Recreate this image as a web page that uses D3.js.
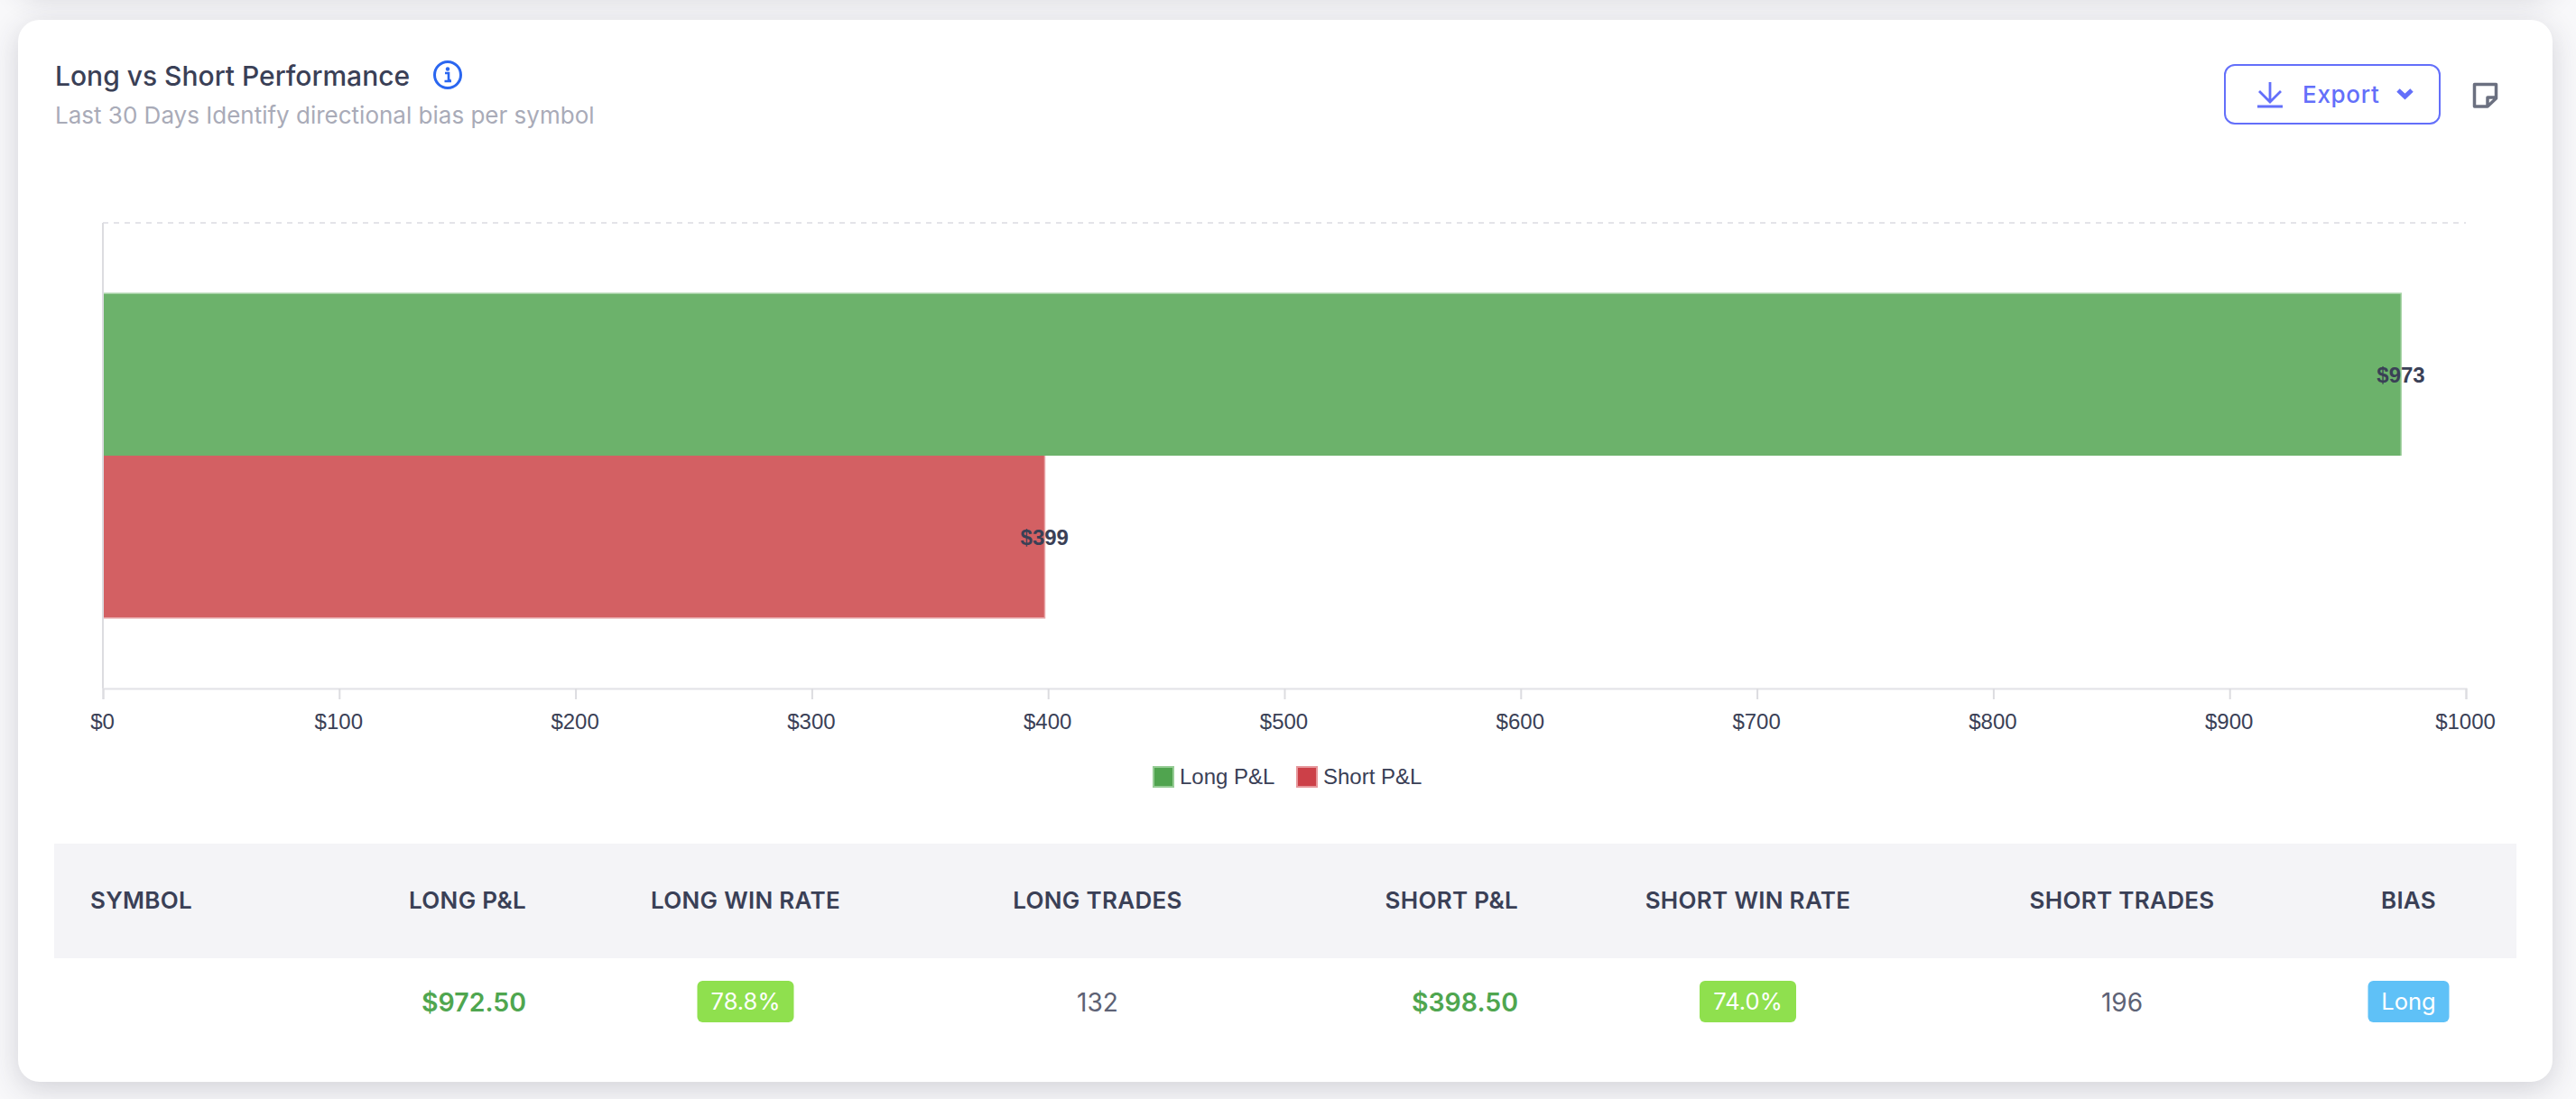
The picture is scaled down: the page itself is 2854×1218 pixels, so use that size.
<!DOCTYPE html>
<html>
<head>
<meta charset="utf-8">
<script src="https://cdn.jsdelivr.net/npm/d3@7"></script>
<style>
  html, body { margin: 0; padding: 0; width: 2854px; height: 1218px; overflow: hidden; background: #f8f8fa; }
  .card {
    position: absolute; left: 20px; width: 2808px;
    background: #fff; border-radius: 24px;
    box-shadow: 0 8px 32px rgba(50, 50, 70, 0.19);
  }
  #prev { top: -300px; height: 288px; }
  #card { top: 22px; height: 1177px; }
  svg { position: absolute; left: 0; top: 0; }
  text { font-family: Inter, sans-serif; }
  .tick text, .legend text, .bar-label { font-family: "Liberation Sans", Arial, sans-serif; }
</style>
</head>
<body>
<div class="card" id="prev"></div>
<div class="card" id="card"></div>
<svg width="2854" height="1218"></svg>
<script>
// Chart data
const symbols = [""];
const seriesNames = ["Long P&L", "Short P&L"];
const seriesValues = [972.5, 398.5];
const barLabels = ["$973", "$399"];
const xTicks = [0, 100, 200, 300, 400, 500, 600, 700, 800, 900, 1000];

// Table data
const tableHeaders = ["SYMBOL", "LONG P&L", "LONG WIN RATE", "LONG TRADES", "SHORT P&L", "SHORT WIN RATE", "SHORT TRADES", "BIAS"];
const longPnl = ["$972.50"];
const longWinRate = ["78.8%"];
const longTrades = ["132"];
const shortPnl = ["$398.50"];
const shortWinRate = ["74.0%"];
const shortTrades = ["196"];
const bias = ["Long"];

const svg = d3.select("svg");

// Colours
const ink = "#3a4056";
const barFill = ["#6cb26b", "#d36063"];
const barEdge = ["#a9d4a8", "#e8a7a9"];
const swatchFill = ["#50a44f", "#cc4048"];
const swatchEdge = ["#96cc95", "#e6989c"];

// Header
svg.append("text").attr("x", 61).attr("y", 94.5)
  .attr("font-size", 30).attr("font-weight", 500).attr("fill", ink)
  .text("Long vs Short Performance");
svg.append("text").attr("x", 61).attr("y", 137)
  .attr("font-size", 26).attr("fill", "#a9abb8")
  .text("Last 30 Days Identify directional bias per symbol");

// Info icon
const info = svg.append("g").attr("transform", "translate(496,83)");
info.append("circle").attr("r", 14.5).attr("fill", "none").attr("stroke", "#2a66f0").attr("stroke-width", 3);
info.append("circle").attr("cy", -6.5).attr("r", 2.2).attr("fill", "#2a66f0");
info.append("path").attr("d", "M-3,-2H1V6H3.5M-3.5,7H4").attr("fill", "none").attr("stroke", "#2a66f0").attr("stroke-width", 2.6);

// Export button
const exportColor = "#636ffa";
svg.append("rect").attr("x", 2465).attr("y", 72).attr("width", 238).attr("height", 65).attr("rx", 11)
  .attr("fill", "#fff").attr("stroke", exportColor).attr("stroke-width", 2);
svg.append("path").attr("d", "M2515,91V113M2503,101L2515,113L2527,101M2501,118H2529")
  .attr("fill", "none").attr("stroke", exportColor).attr("stroke-width", 2.8);
svg.append("text").attr("x", 2551).attr("y", 114)
  .attr("font-size", 26).attr("font-weight", 500).attr("letter-spacing", 0.7).attr("fill", exportColor)
  .text("Export");
svg.append("path").attr("d", "M2657,100L2664.5,107L2672,100")
  .attr("fill", "none").attr("stroke", exportColor).attr("stroke-width", 5);

// Note icon
svg.append("path").attr("d", "M2741.5,93.5H2765.5V109L2756,118H2741.5ZM2765,108H2756V117")
  .attr("fill", "none").attr("stroke", "#6b7080").attr("stroke-width", 3.5).attr("stroke-linejoin", "round");

// Scales
const x = d3.scaleLinear().domain([0, 1000]).range([114, 2732]);
const y0 = d3.scaleBand().domain(symbols).range([247, 763]).paddingInner(0).paddingOuter(0.2143);
const y1 = d3.scaleBand().domain(seriesNames).range([0, y0.bandwidth()]);

// Top dashed line
svg.append("line").attr("x1", x(0)).attr("x2", x(1000)).attr("y1", 247).attr("y2", 247)
  .attr("stroke", "#e4e4e9").attr("stroke-width", 2).attr("stroke-dasharray", "6 6");

// Bars: a light edge rect, then the fill inset on the outer sides only
const barGroup = svg.append("g").attr("transform", `translate(0,${y0(symbols[0])})`);
barGroup.selectAll(".edge")
  .data(seriesValues)
  .enter()
  .append("rect")
  .attr("class", "edge")
  .attr("x", x(0))
  .attr("y", (d, i) => y1(seriesNames[i]))
  .attr("width", (d) => x(d) - x(0) + 1)
  .attr("height", y1.bandwidth())
  .attr("fill", (d, i) => barEdge[i]);
barGroup.selectAll(".fill")
  .data(seriesValues)
  .enter()
  .append("rect")
  .attr("class", "fill")
  .attr("x", x(0))
  .attr("y", (d, i) => y1(seriesNames[i]) + (i === 0 ? 1.5 : 0))
  .attr("width", (d) => x(d) - x(0) - 0.5)
  .attr("height", y1.bandwidth() - 1.5)
  .attr("fill", (d, i) => barFill[i]);

// Left axis line
svg.append("line").attr("x1", x(0)).attr("x2", x(0)).attr("y1", 247).attr("y2", 763)
  .attr("stroke", "#dcdce0").attr("stroke-width", 2);

// X axis
const xAxis = d3.axisBottom(x).tickValues(xTicks).tickFormat((d) => "$" + d).tickSize(12).tickPadding(16);
const axisG = svg.append("g").attr("transform", "translate(0,763)").call(xAxis);
axisG.select(".domain").attr("stroke", "#e2e2e6").attr("stroke-width", 2);
axisG.selectAll(".tick line").attr("stroke", "#dcdce0").attr("stroke-width", 2);
axisG.selectAll(".tick text").attr("font-size", 24).attr("fill", ink).attr("dx", -1);

// Bar value labels
barGroup.selectAll(".bar-label")
  .data(seriesValues)
  .enter()
  .append("text")
  .attr("class", "bar-label")
  .attr("x", (d) => x(d))
  .attr("y", (d, i) => y1(seriesNames[i]) + y1.bandwidth() / 2 + 9)
  .attr("text-anchor", "middle")
  .attr("font-size", 24)
  .attr("font-weight", 700)
  .attr("fill", ink)
  .text((d, i) => barLabels[i]);

// Legend
const legendX = [1278, 1437];
const legend = svg.append("g").attr("class", "legend");
seriesNames.forEach((name, i) => {
  legend.append("rect").attr("x", legendX[i]).attr("y", 850).attr("width", 22).attr("height", 22)
    .attr("fill", swatchFill[i]).attr("stroke", swatchEdge[i]).attr("stroke-width", 2);
  legend.append("text").attr("x", legendX[i] + 29).attr("y", 869)
    .attr("font-size", 24).attr("fill", ink).text(name);
});

// Table header
svg.append("rect").attr("x", 60).attr("y", 935).attr("width", 2728).attr("height", 127).attr("fill", "#f4f4f7");
const colX = [100, 583, 826, 1216, 1682, 1936.5, 2351, 2668.5];
const colAnchor = ["start", "end", "middle", "middle", "end", "middle", "middle", "middle"];
svg.selectAll(".th")
  .data(tableHeaders)
  .enter()
  .append("text")
  .attr("class", "th")
  .attr("x", (d, i) => colX[i])
  .attr("y", 1007)
  .attr("text-anchor", (d, i) => colAnchor[i])
  .attr("font-size", 26)
  .attr("font-weight", 600)
  .attr("letter-spacing", 0.3)
  .attr("fill", ink)
  .text((d) => d);

// Table row
const pnlCells = [[1, longPnl[0]], [4, shortPnl[0]]];
svg.selectAll(".pnl")
  .data(pnlCells)
  .enter()
  .append("text")
  .attr("class", "pnl")
  .attr("x", (d) => colX[d[0]])
  .attr("y", 1121)
  .attr("text-anchor", "end")
  .attr("font-size", 28.5)
  .attr("font-weight", 600)
  .attr("fill", "#4fa64f")
  .text((d) => d[1]);

const countCells = [[3, longTrades[0]], [6, shortTrades[0]]];
svg.selectAll(".count")
  .data(countCells)
  .enter()
  .append("text")
  .attr("class", "count")
  .attr("x", (d) => colX[d[0]])
  .attr("y", 1121)
  .attr("text-anchor", "middle")
  .attr("font-size", 28)
  .attr("fill", "#5d6275")
  .text((d) => d[1]);

// Badges: column, label, width, colour
const badgeCells = [
  [2, longWinRate[0], 107, "#8fe04e"],
  [5, shortWinRate[0], 107, "#8fe04e"],
  [7, bias[0], 90, "#5fc1f7"]
];
badgeCells.forEach((d) => {
  svg.append("rect").attr("x", colX[d[0]] - d[2] / 2).attr("y", 1087).attr("width", d[2]).attr("height", 46)
    .attr("rx", 6).attr("fill", d[3]);
  svg.append("text").attr("x", colX[d[0]]).attr("y", 1119).attr("text-anchor", "middle")
    .attr("font-size", 25.5).attr("fill", "#fff").text(d[1]);
});
</script>
</body>
</html>
